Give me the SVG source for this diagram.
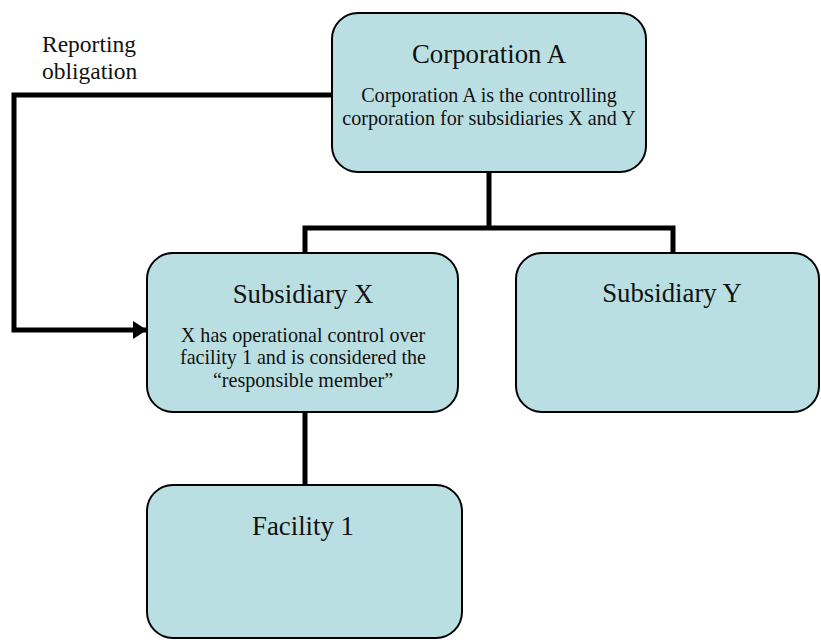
<svg xmlns="http://www.w3.org/2000/svg" width="821" height="640" viewBox="0 0 821 640">
<style>
.box{fill:#badfe3;stroke:#000;stroke-width:2}
.t{font-family:"Liberation Serif","Times New Roman",serif;fill:#111;text-anchor:middle}
.h{font-size:26.8px}
.b{font-size:20.1px}
.l{font-size:23.5px;text-anchor:start}
.c{fill:none;stroke:#000;stroke-width:5}
</style>
<defs>
<marker id="ah" markerUnits="userSpaceOnUse" markerWidth="14" markerHeight="18" refX="13" refY="9" orient="auto">
<path d="M0,0 L14,9 L0,18 Z" fill="#000"/>
</marker>
</defs>
<g id="connectors">
<path class="c" d="M489,172 V228 M305,253 V228 H673 V253"/>
<path class="c" d="M305,412 V485"/>
<path class="c" d="M332,95 H14 V330 H146" marker-end="url(#ah)"/>
</g>
<text class="t l" x="42" y="52">Reporting</text>
<text class="t l" x="42" y="79">obligation</text>
<g id="corpA">
<rect class="box" x="332" y="13" width="314" height="159" rx="26"/>
<text class="t h" x="489" y="63">Corporation A</text>
<text class="t b" x="489" y="102">Corporation A is the controlling</text>
<text class="t b" x="489" y="125">corporation for subsidiaries X and Y</text>
</g>
<g id="subX">
<rect class="box" x="147" y="253" width="311" height="159" rx="26"/>
<text class="t h" x="303" y="303">Subsidiary X</text>
<text class="t b" x="303" y="342">X has operational control over</text>
<text class="t b" x="303" y="364">facility 1 and is considered the</text>
<text class="t b" x="303" y="387">“responsible member”</text>
</g>
<g id="subY">
<rect class="box" x="516" y="253" width="303" height="159" rx="26"/>
<text class="t h" x="672" y="302">Subsidiary Y</text>
</g>
<g id="facility1">
<rect class="box" x="147" y="485" width="315" height="153" rx="26"/>
<text class="t h" x="303" y="535">Facility 1</text>
</g>
</svg>
